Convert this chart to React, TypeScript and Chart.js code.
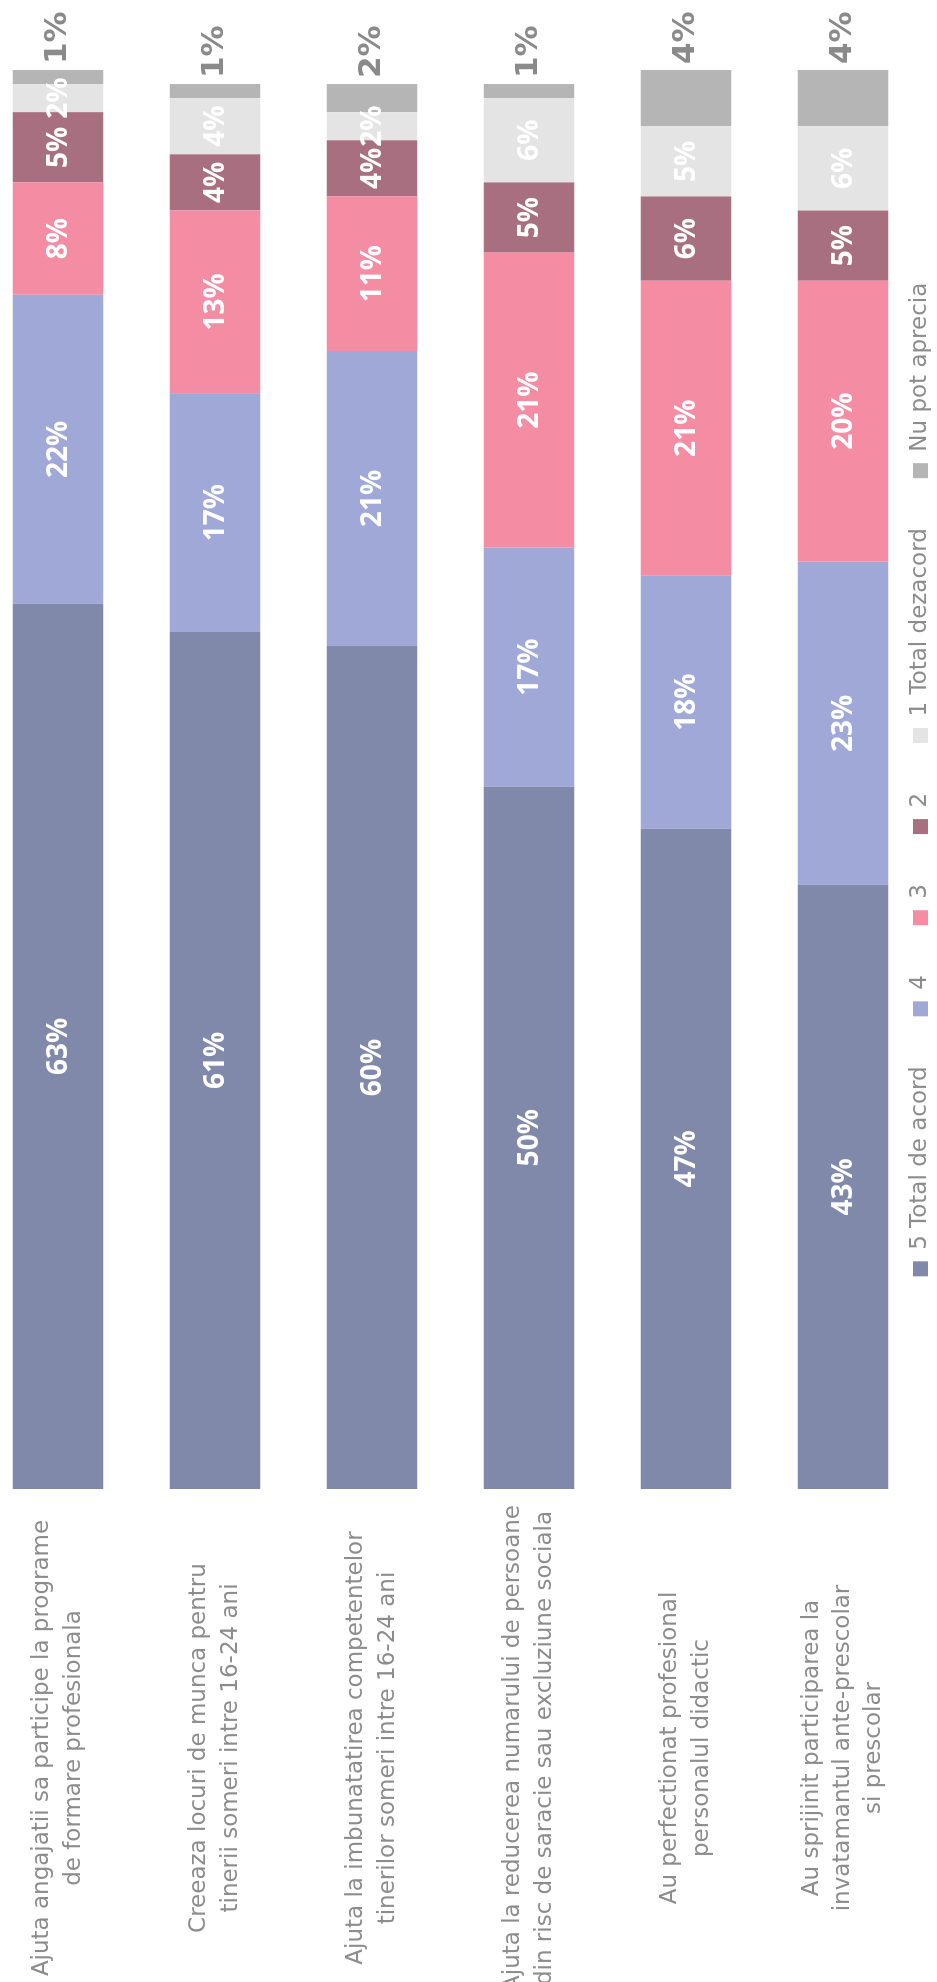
import React, { useEffect, useRef } from "react";
import { Chart, registerables } from "chart.js";

Chart.register(...registerables);

// Survey statements (category axis), one array of lines per statement
const categories: string[][] = [
  ["Ajuta angajatii sa participe la programe", "de formare profesionala"],
  ["Creeaza locuri de munca pentru", "tinerii someri intre 16-24 ani"],
  ["Ajuta la imbunatatirea competentelor", "tinerilor someri intre 16-24 ani"],
  ["Ajuta la reducerea numarului de persoane", "din risc de saracie sau excluziune sociala"],
  ["Au perfectionat profesional", "personalul didactic"],
  ["Au sprijinit participarea la", "invatamantul ante-prescolar", "si prescolar"],
];

// Answer scale, from full agreement to "cannot judge"
const seriesNames = ["5 Total de acord", "4", "3", "2", "1 Total dezacord", "Nu pot aprecia"];

// Share of answers (%) per statement
const totalAcord = [63, 61, 60, 50, 47, 43];
const acord4 = [22, 17, 21, 17, 18, 23];
const neutru3 = [8, 13, 11, 21, 21, 20];
const dezacord2 = [5, 4, 4, 5, 6, 5];
const totalDezacord = [2, 4, 2, 6, 5, 6];
const nuPotAprecia = [1, 1, 2, 1, 4, 4];

const seriesValues = [totalAcord, acord4, neutru3, dezacord2, totalDezacord, nuPotAprecia];
const seriesColors = ["#8189ab", "#a0a8d8", "#f48da4", "#a86f80", "#e4e4e4", "#b5b5b5"];

const CANVAS_W = 1982;
const CANVAS_H = 937;
const LABEL_GREY = "#8c8c8c";

// Percent labels: inside each segment, the last series just past the bar end
const valueLabels = {
  id: "valueLabels",
  afterDatasetsDraw(chart: any) {
    const ctx = chart.ctx as CanvasRenderingContext2D;
    const count = chart.data.datasets.length;
    chart.data.datasets.forEach((ds: any, di: number) => {
      const meta = chart.getDatasetMeta(di);
      const outside = di === count - 1;
      meta.data.forEach((el: any, i: number) => {
        const v = ds.data[i];
        const { x, y, base } = el.getProps(["x", "y", "base"], true);
        ctx.save();
        ctx.textBaseline = "middle";
        if (outside) {
          ctx.font = "bold 31px 'DejaVu Sans'";
          ctx.fillStyle = "#8a8a8a";
          ctx.textAlign = "left";
          ctx.fillText(`${v}%`, x + 6, y);
        } else {
          ctx.font = "bold 28px 'Open Sans'";
          ctx.fillStyle = "#ffffff";
          ctx.textAlign = "center";
          ctx.fillText(`${v}%`, (x + base) / 2, y + 1);
        }
        ctx.restore();
      });
    });
  },
};

export default function App() {
  const canvasRef = useRef<HTMLCanvasElement>(null);

  useEffect(() => {
    const canvas = canvasRef.current;
    if (!canvas) return;
    const chart = new Chart(canvas, {
      type: "bar",
      data: {
        labels: categories,
        datasets: seriesNames.map((name, i) => ({
          label: name,
          data: seriesValues[i],
          backgroundColor: seriesColors[i],
          borderWidth: 0,
          categoryPercentage: 1,
          barPercentage: 0.575,
          clip: false as any,
        })),
      },
      options: {
        indexAxis: "y",
        responsive: false,
        animation: false,
        devicePixelRatio: 1,
        layout: { padding: { left: 0, right: 70, top: 58, bottom: -5 } },
        scales: {
          x: {
            stacked: true,
            min: 0,
            max: 101,
            ticks: { display: false },
            grid: { display: false },
            border: { display: false },
            afterFit: (scale: any) => {
              scale.height = 16;
            },
          },
          y: {
            stacked: true,
            offset: false,
            grid: { display: false },
            border: { display: false },
            ticks: {
              autoSkip: false,
              crossAlign: "center",
              padding: 8,
              color: LABEL_GREY,
              font: { family: "'DejaVu Sans'", size: 23, lineHeight: 1.36 },
            },
            afterFit: (scale: any) => {
              scale.width = 493;
              // the category rows start exactly at the chart area edges
              scale.paddingTop = 0;
              scale.paddingBottom = 0;
            },
          },
        },
        plugins: {
          legend: {
            position: "bottom",
            fullSize: false,
            labels: {
              boxWidth: 15,
              boxHeight: 15,
              padding: 50,
              color: LABEL_GREY,
              font: { family: "'DejaVu Sans'", size: 23 },
            },
          },
          tooltip: { enabled: false },
        },
      },
      plugins: [valueLabels],
    });
    return () => chart.destroy();
  }, []);

  return (
    <div
      style={{
        position: "fixed",
        left: 0,
        top: 0,
        width: CANVAS_H,
        height: CANVAS_W,
        overflow: "hidden",
        background: "#ffffff",
      }}
    >
      <div
        style={{
          position: "absolute",
          left: 0,
          top: 0,
          width: CANVAS_W,
          height: CANVAS_H,
          transformOrigin: "0 0",
          transform: `translate(0px, ${CANVAS_W}px) rotate(-90deg)`,
        }}
      >
        <canvas
          ref={canvasRef}
          width={CANVAS_W}
          height={CANVAS_H}
          style={{ display: "block", width: CANVAS_W, height: CANVAS_H }}
        />
      </div>
    </div>
  );
}
